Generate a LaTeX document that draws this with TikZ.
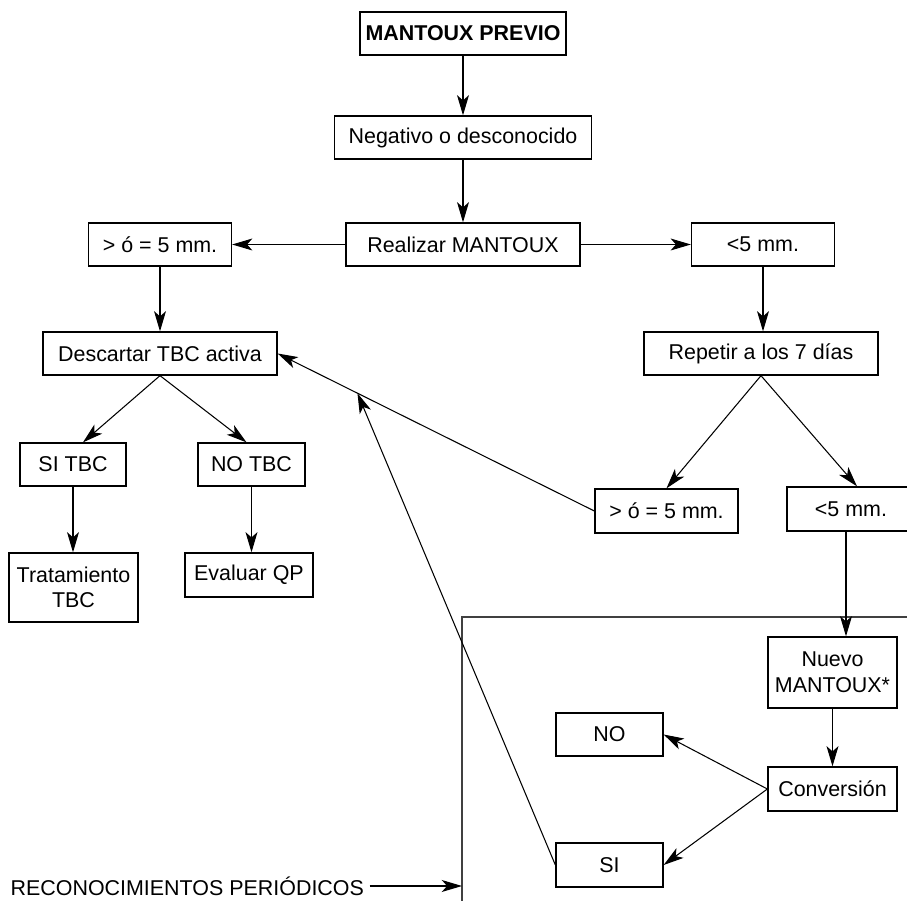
\documentclass[tikz,border=0pt]{standalone}
\usepackage{fontspec}
\setmainfont{Liberation Sans}
\usetikzlibrary{arrows.meta}

\tikzstyle{every node}=[font=\fontsize{12.2}{14.6}\selectfont, inner sep=0pt]
\tikzstyle{bx} = [draw, line width=0.75pt, rectangle, minimum height=0.86cm, align=center]
\tikzstyle{arr} = [-{Stealth[length=11.5pt, width=6.8pt, inset=3pt]}, line width=0.6pt]

\begin{document}
\begin{tikzpicture}[x=0.02cm, y=-0.02cm]
  \useasboundingbox (0,0) rectangle (907,901);
  % top column
  \node[bx, minimum width=4.12cm, font=\fontsize{12.2}{14.6}\selectfont\bfseries] (prev) at (463,33.5) {MANTOUX PREVIO};
  \node[bx, minimum width=5.14cm] (neg) at (463,137.5) {Negativo o desconocido};
  \node[bx, minimum width=4.68cm] (real) at (463,244.5) {Realizar MANTOUX};
  \node[bx, minimum width=2.86cm] (ge1) at (160,244.5) {> ó = 5 mm.};
  \node[bx, minimum width=2.86cm] (lt1) at (763,244.5) {<5 mm.};
  % left branch
  \node[bx, minimum width=4.68cm] (desc) at (160,353.5) {Descartar TBC activa};
  \node[bx, minimum width=2.12cm] (sitbc) at (73,464.5) {SI TBC};
  \node[bx, minimum width=2.14cm] (notbc) at (251.5,464.5) {NO TBC};
  \node[bx, minimum width=2.58cm, minimum height=1.38cm] (trat) at (73.5,587.5) {Tratamiento\\TBC};
  \node[bx, minimum width=2.56cm, minimum height=0.88cm] (eval) at (249,575) {Evaluar QP};
  % right branch
  \node[bx, minimum width=4.68cm] (rep) at (761,353.5) {Repetir a los 7 días};
  \node[bx, minimum width=2.86cm, minimum height=0.88cm] (ge2) at (666.5,511) {> ó = 5 mm.};
  \node[bx, minimum width=2.56cm, minimum height=0.88cm] (lt2) at (851,509) {<5 mm.};
  \node[bx, minimum width=2.58cm, minimum height=1.42cm] (nuevo) at (832.5,672.5) {Nuevo\\MANTOUX*};
  \node[bx, minimum width=2.58cm, minimum height=0.88cm] (conv) at (832.5,789) {Conversión};
  \node[bx, minimum width=2.14cm] (no) at (609.5,734.5) {NO};
  \node[bx, minimum width=2.14cm, minimum height=0.88cm] (si) at (609.5,865) {SI};
  \node[anchor=west, inner sep=3pt] (reco) at (5,886) {RECONOCIMIENTOS PERIÓDICOS};

  % frame of the periodic check
  \draw[line width=0.8pt, black!75] (907,617) -- (462,617) -- (462,901);
  \coordinate (frm) at (462,886);

  \draw[arr] (prev) -- (neg);
  \draw[arr] (neg) -- (real);
  \draw[arr] (real) -- (ge1);
  \draw[arr] (real) -- (lt1);
  \draw[arr] (ge1.south) -- (desc.north);
  \draw[arr] (lt1.south) -- (lt1.south |- rep.north);
  \draw[arr] (desc.south) -- ([xshift=0.2cm]sitbc.north);
  \draw[arr] (desc.south) -- ([xshift=-0.1cm]notbc.north);
  \draw[arr] (sitbc.south) -- (sitbc.south |- trat.north);
  \draw[arr] (notbc.south) -- (notbc.south |- eval.north);
  \draw[arr] (rep.south) -- (ge2.north);
  \draw[arr] (rep.south) -- ([xshift=0.12cm]lt2.north);
  \draw[arr] (ge2.west) -- (desc.east) coordinate[pos=0.748] (hit);
  \draw[arr] (si.west) -- (hit);
  \draw[arr] ([xshift=-0.1cm]lt2.south) -- ([xshift=-0.1cm]lt2.south |- nuevo.north);
  \draw[arr] (nuevo) -- (conv);
  \draw[arr] (conv.west) -- (no.east);
  \draw[arr] (conv.west) -- (si.east);
  \draw[arr] (reco) -- (frm);
\end{tikzpicture}
\end{document}
